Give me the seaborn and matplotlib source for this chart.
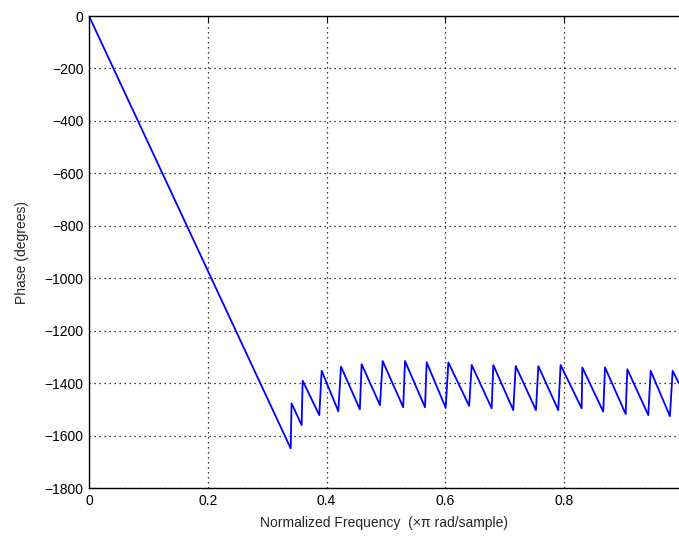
import numpy as np
import pandas as pd
import seaborn as sns
import matplotlib
matplotlib.use("Agg")
import matplotlib.pyplot as plt

# normalized frequency (x pi rad/sample) and phase (degrees)
freq = [0, 0.3396, 0.341, 0.358, 0.3597, 0.3877, 0.3917, 0.4197, 0.4242, 0.456,
        0.459, 0.4899, 0.4944, 0.529, 0.532, 0.5657, 0.5685, 0.6005, 0.605, 0.640,
        0.6443, 0.6779, 0.6807, 0.7143, 0.7184, 0.7525, 0.7565, 0.79, 0.794, 0.8294,
        0.8305, 0.8658, 0.8687, 0.9035, 0.9063, 0.9416, 0.9456, 0.978, 0.9826, 0.9933]
phase = [0, -1649, -1477, -1560, -1391, -1522, -1353, -1507, -1337, -1500,
         -1328, -1484, -1316, -1492, -1316, -1492, -1321, -1494, -1321, -1487,
         -1331, -1496, -1331, -1503, -1335, -1503, -1335, -1503, -1331, -1496,
         -1340, -1509, -1340, -1518, -1347, -1522, -1353, -1526, -1353, -1401]

x_ticks = [0, 0.2, 0.4, 0.6, 0.8]
x_labels = ["0", "0.2", "0.4", "0.6", "0.8"]
y_ticks = list(range(-1800, 1, 200))

sns.set_style("white")
plt.rcParams["font.family"] = ["Liberation Sans", "DejaVu Sans"]
plt.rcParams["font.size"] = 10

df = pd.DataFrame({"freq": freq, "phase": phase})

fig = plt.figure(figsize=(6.79, 5.36), dpi=100)
ax = fig.add_axes([89 / 679, 48 / 536, 590 / 679, 472 / 536])

sns.lineplot(data=df, x="freq", y="phase", sort=False, estimator=None,
             color="blue", linewidth=1.3, ax=ax)

ax.set_xlim(0, 0.9933)
ax.set_ylim(-1800, 0)
ax.set_xticks(x_ticks)
ax.set_xticklabels(x_labels)
ax.set_yticks(y_ticks)
ax.set_yticklabels([str(v).replace("-", "\u2212") for v in y_ticks])

ax.grid(True, color="black", linestyle=(0, (1, 3)), linewidth=0.9)
ax.tick_params(direction="in", length=4, width=0.8, colors="black",
               labelsize=10, top=True, pad=4)
for side in ["left", "top", "bottom"]:
    ax.spines[side].set_color("black")
    ax.spines[side].set_linewidth(1.0)
ax.spines["right"].set_visible(False)

ax.set_xlabel("Normalized Frequency  (\u00d7\u03c0 rad/sample)", fontsize=10, labelpad=6)
ax.set_ylabel("Phase (degrees)", fontsize=10, labelpad=11)

fig.savefig("out.png", dpi=100)
